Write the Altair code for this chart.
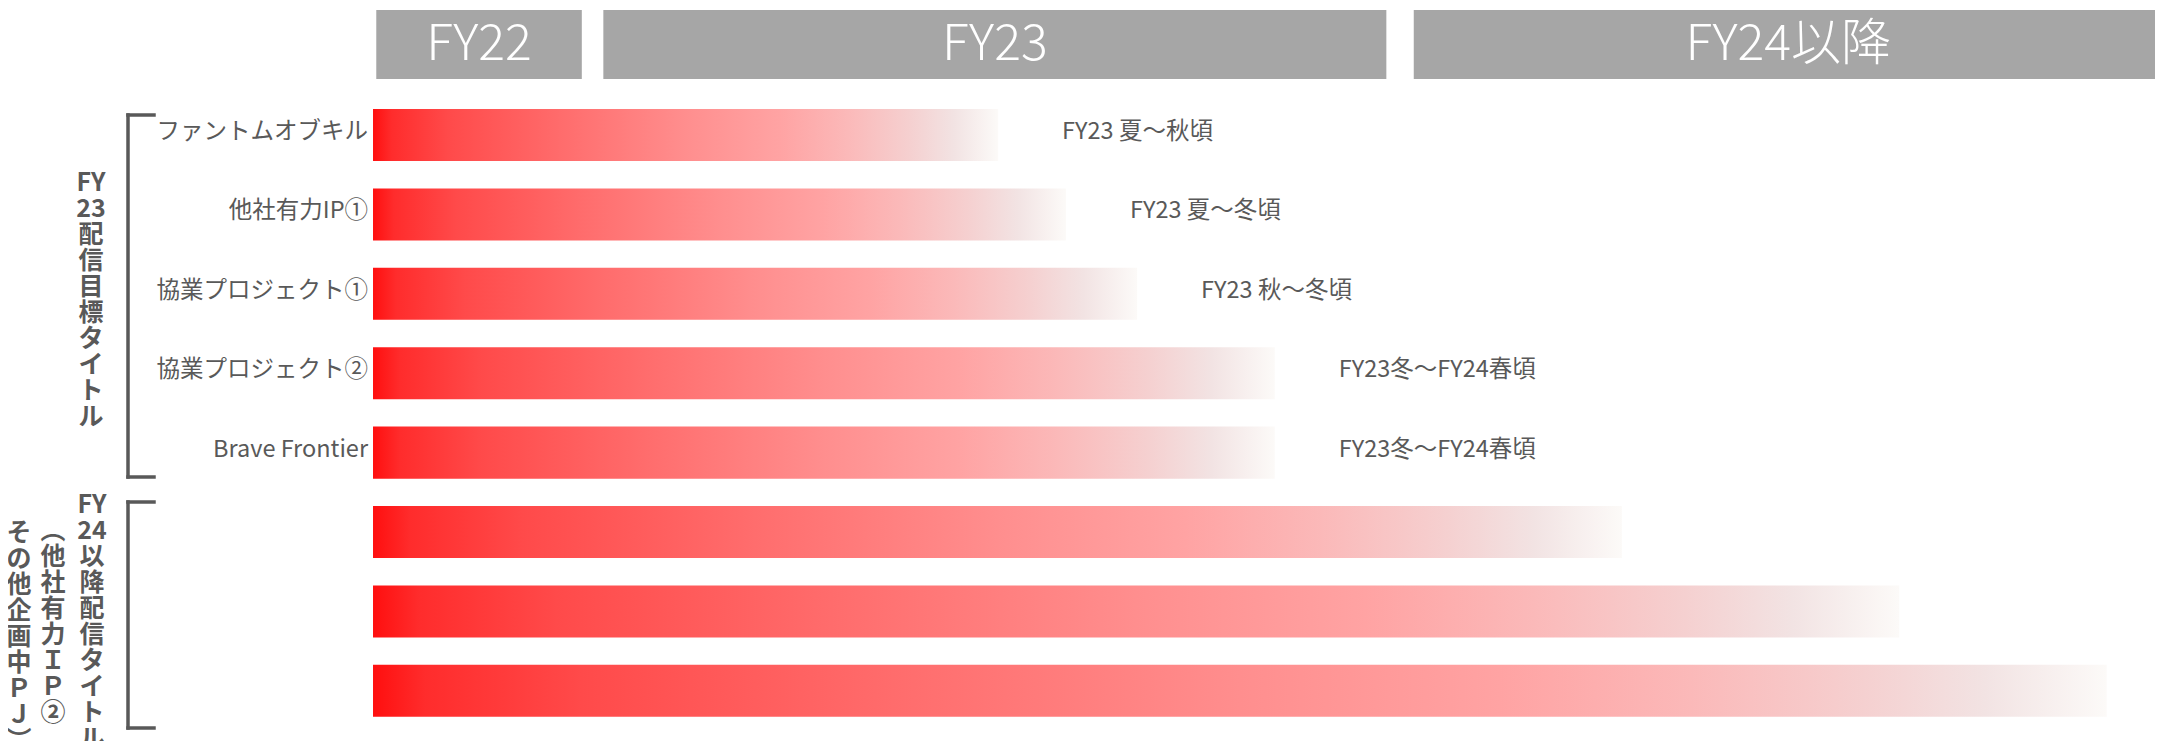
import altair as alt
import pandas as pd

# ---- data (timeline in months from the FY22 column start) ----
periods = ["FY22", "FY23", "FY24以降"]
period_start = [0.05, 3.53, 15.95]
period_end = [3.20, 15.53, 27.43]

rows = [0, 1, 2, 3, 4, 5, 6, 7]
row_labels = ["ファントムオブキル", "他社有力IP①", "協業プロジェクト①", "協業プロジェクト②",
              "Brave Frontier", "", "", ""]
end_labels = ["FY23 夏〜秋頃", "FY23 夏〜冬頃", "FY23 秋〜冬頃", "FY23冬〜FY24春頃",
              "FY23冬〜FY24春頃", "", "", ""]
bar_start = [0, 0, 0, 0, 0, 0, 0, 0]
bar_end = [9.58, 10.62, 11.71, 13.82, 13.82, 19.14, 23.39, 26.57]

group1_lines = ["FY", "23", "配", "信", "目", "標", "タ", "イ", "ト", "ル"]
group2_lines = ["FY", "24", "以", "降", "配", "信", "タ", "イ", "ト", "ル"]
group2_note_a = ["︵", "他", "社", "有", "力", "Ｉ", "Ｐ", "②"]
group2_note_b = ["そ", "の", "他", "企", "画", "中", "Ｐ", "Ｊ", "︶"]

FONT = "Noto Sans CJK JP"
GREY = "#595959"
W, H = 2147, 733

bars = pd.DataFrame({"row": rows, "label": row_labels, "end_label": end_labels,
                     "start": bar_start, "end": bar_end})
heads = pd.DataFrame({"period": periods, "start": period_start, "end": period_end})

xs = alt.Scale(domain=[-5.594, 27.31], nice=False, zero=False)
ys = alt.Scale(domain=[-1.6, 7.632], nice=False, zero=False, reverse=True)

grad = alt.LinearGradient(
    gradient="linear", x1=0, x2=1, y1=0, y2=0,
    stops=[
        alt.GradientStop(offset=0.0, color="#ff0f0f"),
        alt.GradientStop(offset=0.03, color="#ff2c2c"),
        alt.GradientStop(offset=0.12, color="#ff4a4a"),
        alt.GradientStop(offset=0.30, color="#ff6c6c"),
        alt.GradientStop(offset=0.50, color="#ff8e8e"),
        alt.GradientStop(offset=0.65, color="#ffa3a3"),
        alt.GradientStop(offset=0.76, color="#fbb9b9"),
        alt.GradientStop(offset=0.86, color="#f5d0d0"),
        alt.GradientStop(offset=0.93, color="#f2e3e3"),
        alt.GradientStop(offset=1.0, color="#fcfaf8"),
    ],
)

base = alt.Chart(bars)

bar_layer = base.transform_calculate(
    yt="datum.row - 0.3275", yb="datum.row + 0.3275"
).mark_rect(fill=grad, strokeWidth=0).encode(
    x=alt.X("start:Q", scale=xs, axis=None),
    x2="end:Q",
    y=alt.Y("yt:Q", scale=ys, axis=None),
    y2="yb:Q",
)

left_text = base.mark_text(
    align="right", baseline="middle", dx=-5, dy=-3, font=FONT, fontSize=23.5, color=GREY
).encode(
    x=alt.X("start:Q", scale=xs, axis=None),
    y=alt.Y("row:Q", scale=ys, axis=None),
    text="label:N",
)

right_text = base.mark_text(
    align="left", baseline="middle", dx=64, dy=-3, font=FONT, fontSize=23.5, color=GREY
).encode(
    x=alt.X("end:Q", scale=xs, axis=None),
    y=alt.Y("row:Q", scale=ys, axis=None),
    text="end_label:N",
)

hbase = alt.Chart(heads)
head_rect = hbase.mark_rect(color="#a6a6a6").encode(
    x=alt.X("start:Q", scale=xs, axis=None),
    x2="end:Q",
    y=alt.value(2),
    y2=alt.value(71),
)
head_text = hbase.transform_calculate(mid="(datum.start + datum.end) / 2").mark_text(
    align="center", baseline="middle", font=FONT, fontSize=50, fontWeight=300, color="white"
).encode(
    x=alt.X("mid:Q", scale=xs, axis=None),
    y=alt.value(37),
    text="period:N",
)

one = alt.Data(values=[{"k": 1}])


def rule(x1, x2, y1, y2):
    return alt.Chart(one).mark_rule(color=GREY, strokeWidth=3.5, strokeCap="square").encode(
        x=alt.value(x1), x2=alt.value(x2), y=alt.value(y1), y2=alt.value(y2)
    )


brackets = [
    rule(120, 120, 107, 469), rule(120, 146, 107, 107), rule(120, 146, 469, 469),
    rule(120, 120, 494, 720), rule(120, 146, 494, 494), rule(120, 146, 720, 720),
]


def vtext(lines, x, y_first):
    return alt.Chart(one).mark_text(
        align="center", baseline="middle", font=FONT, fontSize=25, fontWeight="bold",
        color=GREY, lineBreak="\n", lineHeight=26,
    ).encode(x=alt.value(x), y=alt.value(y_first), text=alt.value("\n".join(lines)))


vtexts = [
    vtext(group1_lines, 83, 175),
    vtext(group2_lines, 84, 497),
    vtext(group2_note_a, 45, 523),
    vtext(group2_note_b, 11, 525),
]

chart = alt.layer(
    head_rect, head_text, bar_layer, left_text, right_text, *brackets, *vtexts
).properties(
    width=W, height=H, autosize=alt.AutoSizeParams(type="none"), padding=0
).configure_view(stroke=None)

chart.save("out.html", embed_options={"renderer": "svg", "actions": False})
